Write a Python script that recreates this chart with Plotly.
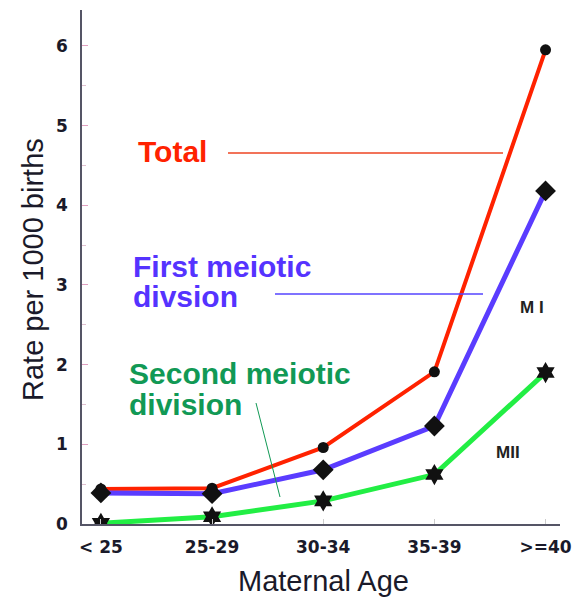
import plotly.graph_objects as go

categories = ["< 25", "25-29", "30-34", "35-39", ">=40"]
total = [0.44, 0.45, 0.96, 1.91, 5.95]
first_meiotic = [0.39, 0.38, 0.68, 1.23, 4.18]
second_meiotic = [0.01, 0.09, 0.29, 0.62, 1.90]
y_ticks = [0, 1, 2, 3, 4, 5, 6]

# page body has an 8px default margin; compensate so the chart lands on the screen
OFF = 8
SW, SH = 585, 599
W, H = SW - OFF, SH - OFF
PL, PR, PT, PB = 82, 560, 10, 524   # plot area on screen
ML, MR, MT, MB = PL - OFF, SW - PR, PT - OFF, SH - PB
XR = [-0.17, 4.13]
YR = [0, 6.45]

def px(x):
    return XR[0] + (x - PL) / (PR - PL) * (XR[1] - XR[0])

def py(y):
    return YR[0] + (PB - y) / (PB - PT) * (YR[1] - YR[0])

def ppx(x):
    return (x - PL) / (PR - PL)

def ppy(y):
    return (PB - y) / (PB - PT)

xs = list(range(len(categories)))
fig = go.Figure()
fig.add_trace(go.Scatter(x=xs, y=total, mode="lines+markers",
                         line=dict(color="#ff2200", width=4),
                         marker=dict(symbol="circle", size=11, color="#111111")))
fig.add_trace(go.Scatter(x=xs, y=first_meiotic, mode="lines+markers",
                         line=dict(color="#5a3cff", width=5),
                         marker=dict(symbol="diamond", size=16, color="#111111")))
fig.add_trace(go.Scatter(x=xs, y=second_meiotic, mode="lines+markers",
                         line=dict(color="#22ee44", width=5),
                         marker=dict(symbol="hexagram", size=16, color="#111111")))

lib = "Liberation Sans, Arial, sans-serif"
dvs = "DejaVu Sans, Verdana, sans-serif"
labels = [
    ("Total", 136, 151, "#ff2200"),
    ("First meiotic", 131, 266, "#5533ff"),
    ("divsion", 131, 296, "#5533ff"),
    ("Second meiotic", 127, 373, "#119955"),
    ("division", 127, 404, "#119955"),
]
for text, sx, sy, col in labels:
    fig.add_annotation(text="<b>%s</b>" % text, x=px(sx), y=py(sy), xanchor="left", yanchor="middle",
                       showarrow=False, align="left",
                       font=dict(family=lib, size=30, color=col))
fig.add_annotation(text="<b>M I</b>", x=px(532), y=py(307), showarrow=False,
                   font=dict(family=lib, size=17, color="#222222"))
fig.add_annotation(text="<b>MII</b>", x=px(508), y=py(452), showarrow=False,
                   font=dict(family=lib, size=17, color="#222222"))

# axis titles
fig.add_annotation(text="Maternal Age", xref="paper", yref="paper", x=ppx(323), y=ppy(581),
                   showarrow=False, xanchor="center", yanchor="middle",
                   font=dict(family=lib, size=29, color="#1a1a2a"))
fig.add_annotation(text="Rate per 1000 births", xref="paper", yref="paper", x=ppx(33), y=ppy(270),
                   showarrow=False, xanchor="center", yanchor="middle", textangle=-90,
                   font=dict(family=lib, size=29, color="#1a1a2a"))

fig.add_shape(type="line", x0=px(228), x1=px(503), y0=py(153), y1=py(153),
              line=dict(color="#ee4422", width=1.5))
fig.add_shape(type="line", x0=px(275), x1=px(483), y0=py(294), y1=py(294),
              line=dict(color="#5544ff", width=1.5))
fig.add_shape(type="line", x0=px(256), x1=px(280), y0=py(403), y1=py(497),
              line=dict(color="#119955", width=1))

fig.update_layout(
    width=W, height=H, showlegend=False,
    margin=dict(l=ML, r=MR, t=MT, b=MB),
    paper_bgcolor="white", plot_bgcolor="white",
    font=dict(family=dvs, color="#1a1a2a"),
)
fig.update_xaxes(range=XR, tickvals=xs, ticktext=["<b>%s</b>" % c for c in categories],
                 showgrid=False,
                 showline=True, linecolor="#555566", linewidth=1.5,
                 ticks="inside", ticklen=5, tickcolor="#cccccc",
                 ticklabelstandoff=7,
                 tickfont=dict(size=17, family=dvs, color="#1a1a2a"),
                 zeroline=False)
fig.update_yaxes(range=YR, tickvals=y_ticks, ticktext=["<b>%d</b>" % t for t in y_ticks],
                 showgrid=False,
                 showline=True, linecolor="#555566", linewidth=1.5,
                 ticks="inside", ticklen=6, tickcolor="#e0a0c0",
                 ticklabelstandoff=9,
                 minor=dict(dtick=0.5, ticks="inside", ticklen=4, tickcolor="#e0c0d0"),
                 tickfont=dict(size=17, family=dvs, color="#1a1a2a"),
                 zeroline=False)

fig.write_html("out.html")
